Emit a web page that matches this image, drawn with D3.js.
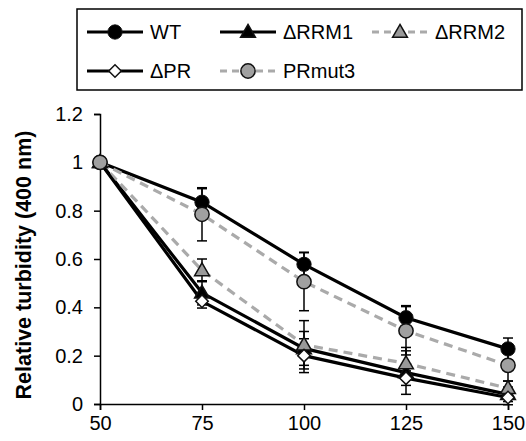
<!DOCTYPE html>
<html>
<head>
<meta charset="utf-8">
<script src="https://cdn.jsdelivr.net/npm/d3@7"></script>
<style>
html,body{margin:0;padding:0;background:#fff;}
svg{display:block;font-family:"Liberation Sans",Arial,sans-serif;}
</style>
</head>
<body>
<svg id="chart" width="526" height="441"></svg>
<script>
const xValues = [50, 75, 100, 125, 150];
const yTicks = [0, 0.2, 0.4, 0.6, 0.8, 1, 1.2];
const seriesNames = ["WT", "ΔRRM1", "ΔRRM2", "ΔPR", "PRmut3"];
const wtValues     = [1, 0.835, 0.578, 0.357, 0.228];
const wtErrors     = [0, 0.056, 0.05, 0.05, 0.045];
const rrm1Values   = [1, 0.46, 0.23, 0.13, 0.04];
const rrm1Errors   = [0, 0.05, 0.07, 0.09, 0.03];
const rrm2Values   = [1, 0.553, 0.245, 0.168, 0.065];
const rrm2Errors   = [0, 0.047, 0.1, 0.066, 0.03];
const prValues     = [1, 0.425, 0.2, 0.107, 0.027];
const prErrors     = [0, 0.028, 0.07, 0.03, 0.03];
const prmut3Values = [1, 0.785, 0.506, 0.303, 0.16];
const prmut3Errors = [0, 0.11, 0.12, 0.1, 0.065];
const yLabel = "Relative turbidity (400 nm)";

const styles = {
  "WT":     {stroke:"#000", dash:null, shape:"circle", fill:"#000"},
  "ΔRRM1":  {stroke:"#000", dash:null, shape:"triangle", fill:"#000"},
  "ΔRRM2":  {stroke:"#aaa", dash:"9,6", shape:"triangle", fill:"#999"},
  "ΔPR":    {stroke:"#000", dash:null, shape:"diamond", fill:"#fff"},
  "PRmut3": {stroke:"#aaa", dash:"9,6", shape:"circle", fill:"#a0a0a0"}
};
const allValues = [wtValues, rrm1Values, rrm2Values, prValues, prmut3Values];
const allErrors = [wtErrors, rrm1Errors, rrm2Errors, prErrors, prmut3Errors];
const series = seriesNames.map((n,i)=>({name:n, pts:xValues.map((x,j)=>({x, y:allValues[i][j], e:allErrors[i][j]}))}));

const svg = d3.select("#chart");
const x = d3.scaleLinear().domain([50,150]).range([100,508]);
const y = d3.scaleLinear().domain([0,1.2]).range([404,114]);

const symType = {circle:d3.symbolCircle, triangle:d3.symbolTriangle, diamond:d3.symbolSquare};
const symSize = {circle:160, triangle:95, diamond:78};
function marker(g, st){
  return g.append("path")
    .attr("d", d3.symbol().type(symType[st.shape]).size(symSize[st.shape])())
    .attr("transform", st.shape==="diamond" ? "rotate(45)" : (st.shape==="triangle" ? "translate(0,1)" : null))
    .attr("fill", st.fill)
    .attr("stroke", "#111")
    .attr("stroke-width", st.shape==="circle" && st.fill==="#000" ? 1 : 1.5);
}

// axes
const yAxis = svg.append("g").attr("transform","translate(100,0)")
  .call(d3.axisLeft(y).tickValues(yTicks).tickSize(6).tickPadding(11).tickFormat(d=>d3.format("~g")(d)));
const xAxis = svg.append("g").attr("transform","translate(0,404)")
  .call(d3.axisBottom(x).tickValues(xValues).tickSize(6).tickPadding(6));
[yAxis,xAxis].forEach(a=>{
  a.selectAll("path,line").attr("stroke","#000").attr("stroke-width",1.5);
  a.selectAll("text").attr("font-size",20).attr("fill","#000").attr("font-family","Liberation Sans, Arial, sans-serif");
});

svg.append("text")
  .attr("transform","translate(31,265) rotate(-90)")
  .attr("text-anchor","middle")
  .attr("font-size",21.5).attr("font-weight","bold")
  .text(yLabel);

const line = d3.line().x(d=>x(d.x)).y(d=>y(d.y));

// error bars
series.forEach(s=>{
  const g = svg.append("g");
  s.pts.filter(p=>p.e>0).forEach(p=>{
    const cx = x(p.x), y1 = y(p.y+p.e), y2 = y(Math.max(0,p.y-p.e));
    g.append("line").attr("x1",cx).attr("x2",cx).attr("y1",y1).attr("y2",y2).attr("stroke","#000").attr("stroke-width",1.5);
    [y1, y(p.y-p.e)].forEach(yy=>g.append("line").attr("x1",cx-5).attr("x2",cx+5).attr("y1",yy).attr("y2",yy).attr("stroke","#000").attr("stroke-width",1.5));
  });
});

// lines & markers
series.forEach(s=>{
  const st = styles[s.name];
  svg.append("path").datum(s.pts).attr("d",line)
    .attr("fill","none").attr("stroke",st.stroke).attr("stroke-width",3.2)
    .attr("stroke-dasharray",st.dash);
});
series.forEach(s=>{
  const st = styles[s.name];
  s.pts.forEach(p=>{
    marker(svg.append("g").attr("transform",`translate(${x(p.x)},${y(p.y)})`), st);
  });
});

// legend
const lg = svg.append("g");
lg.append("rect").attr("x",77).attr("y",9).attr("width",445).attr("height",81)
  .attr("fill","#fff").attr("stroke","#000").attr("stroke-width",1.5);
const legendPos = [
  {x:87, y:32}, {x:220, y:32}, {x:372, y:32},
  {x:87, y:71}, {x:220, y:71}
];
seriesNames.forEach((n,i)=>{
  const st = styles[n], p = legendPos[i];
  lg.append("line").attr("x1",p.x).attr("x2",p.x+56).attr("y1",p.y).attr("y2",p.y)
    .attr("stroke",st.stroke).attr("stroke-width",3.2).attr("stroke-dasharray",st.dash?"7,5":null);
  marker(lg.append("g").attr("transform",`translate(${p.x+28},${p.y})`), st);
  lg.append("text").attr("x",p.x+63).attr("y",p.y+7).attr("font-size",20).attr("fill","#000").text(n);
});
</script>
</body>
</html>
